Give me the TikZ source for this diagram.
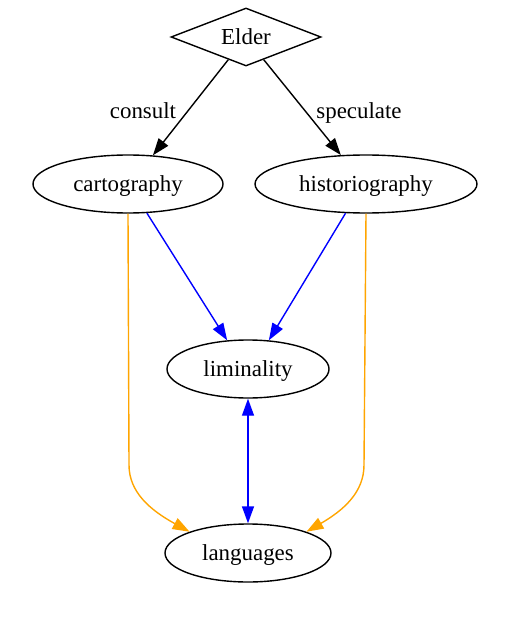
\documentclass[tikz,border=0pt]{standalone}
\usepackage{fontspec}
\setmainfont{Liberation Serif}
\usetikzlibrary{shapes.geometric,arrows.meta}
\definecolor{gvorange}{RGB}{255,165,0}
\definecolor{gvblue}{RGB}{0,0,255}
\begin{document}
\begin{tikzpicture}[x=1bp,y=-1bp,
  every node/.style={font=\fontsize{23}{27}\selectfont, inner sep=0pt, text height=16bp, text depth=0.6bp},
  ell/.style={draw, ellipse, line width=1.4bp, minimum height=58bp},
  dia/.style={draw, diamond, aspect=2.59, line width=1.4bp, minimum width=150bp, minimum height=58bp},
  edge/.style={line width=1.4bp, -{Triangle[length=17bp,width=12bp]}},
  bothedge/.style={line width=1.4bp, {Triangle[length=17bp,width=12bp]}-{Triangle[length=17bp,width=12bp]}},
  lbl/.style={font=\fontsize{23}{27}\selectfont}
]
\useasboundingbox (0,0) rectangle (511,618);
\node[dia] (elder) at (246,37) {Elder};
\node[ell, minimum width=190bp] (cart) at (128,184) {cartography};
\node[ell, minimum width=222bp] (hist) at (366,184) {historiography};
\node[ell, minimum width=162bp] (lim) at (248,369) {liminality};
\node[ell, minimum width=166bp] (lang) at (248,553) {languages};

\draw[edge] (elder.232) -- (cart.49);
\draw[edge] (elder.308) -- (hist.131);
\node[lbl] (lconsult) at (143,111) {consult};
\node[lbl] (lspec) at (359,111) {speculate};

\draw[edge, gvblue] (cart.303) -- (lim.126);
\draw[edge, gvblue] (hist.235) -- (lim.54);
\draw[bothedge, gvblue] (lim.south) -- (lang.north);

\coordinate (lbend) at (129,465);
\coordinate (rbend) at (364,465);
\draw[edge, gvorange] (cart.south) -- (lbend) .. controls (129,492) and (150,510) .. (lang.160);
\draw[edge, gvorange] (hist.south) -- (rbend) .. controls (364,492) and (344,510) .. (lang.20);
\end{tikzpicture}
\end{document}
